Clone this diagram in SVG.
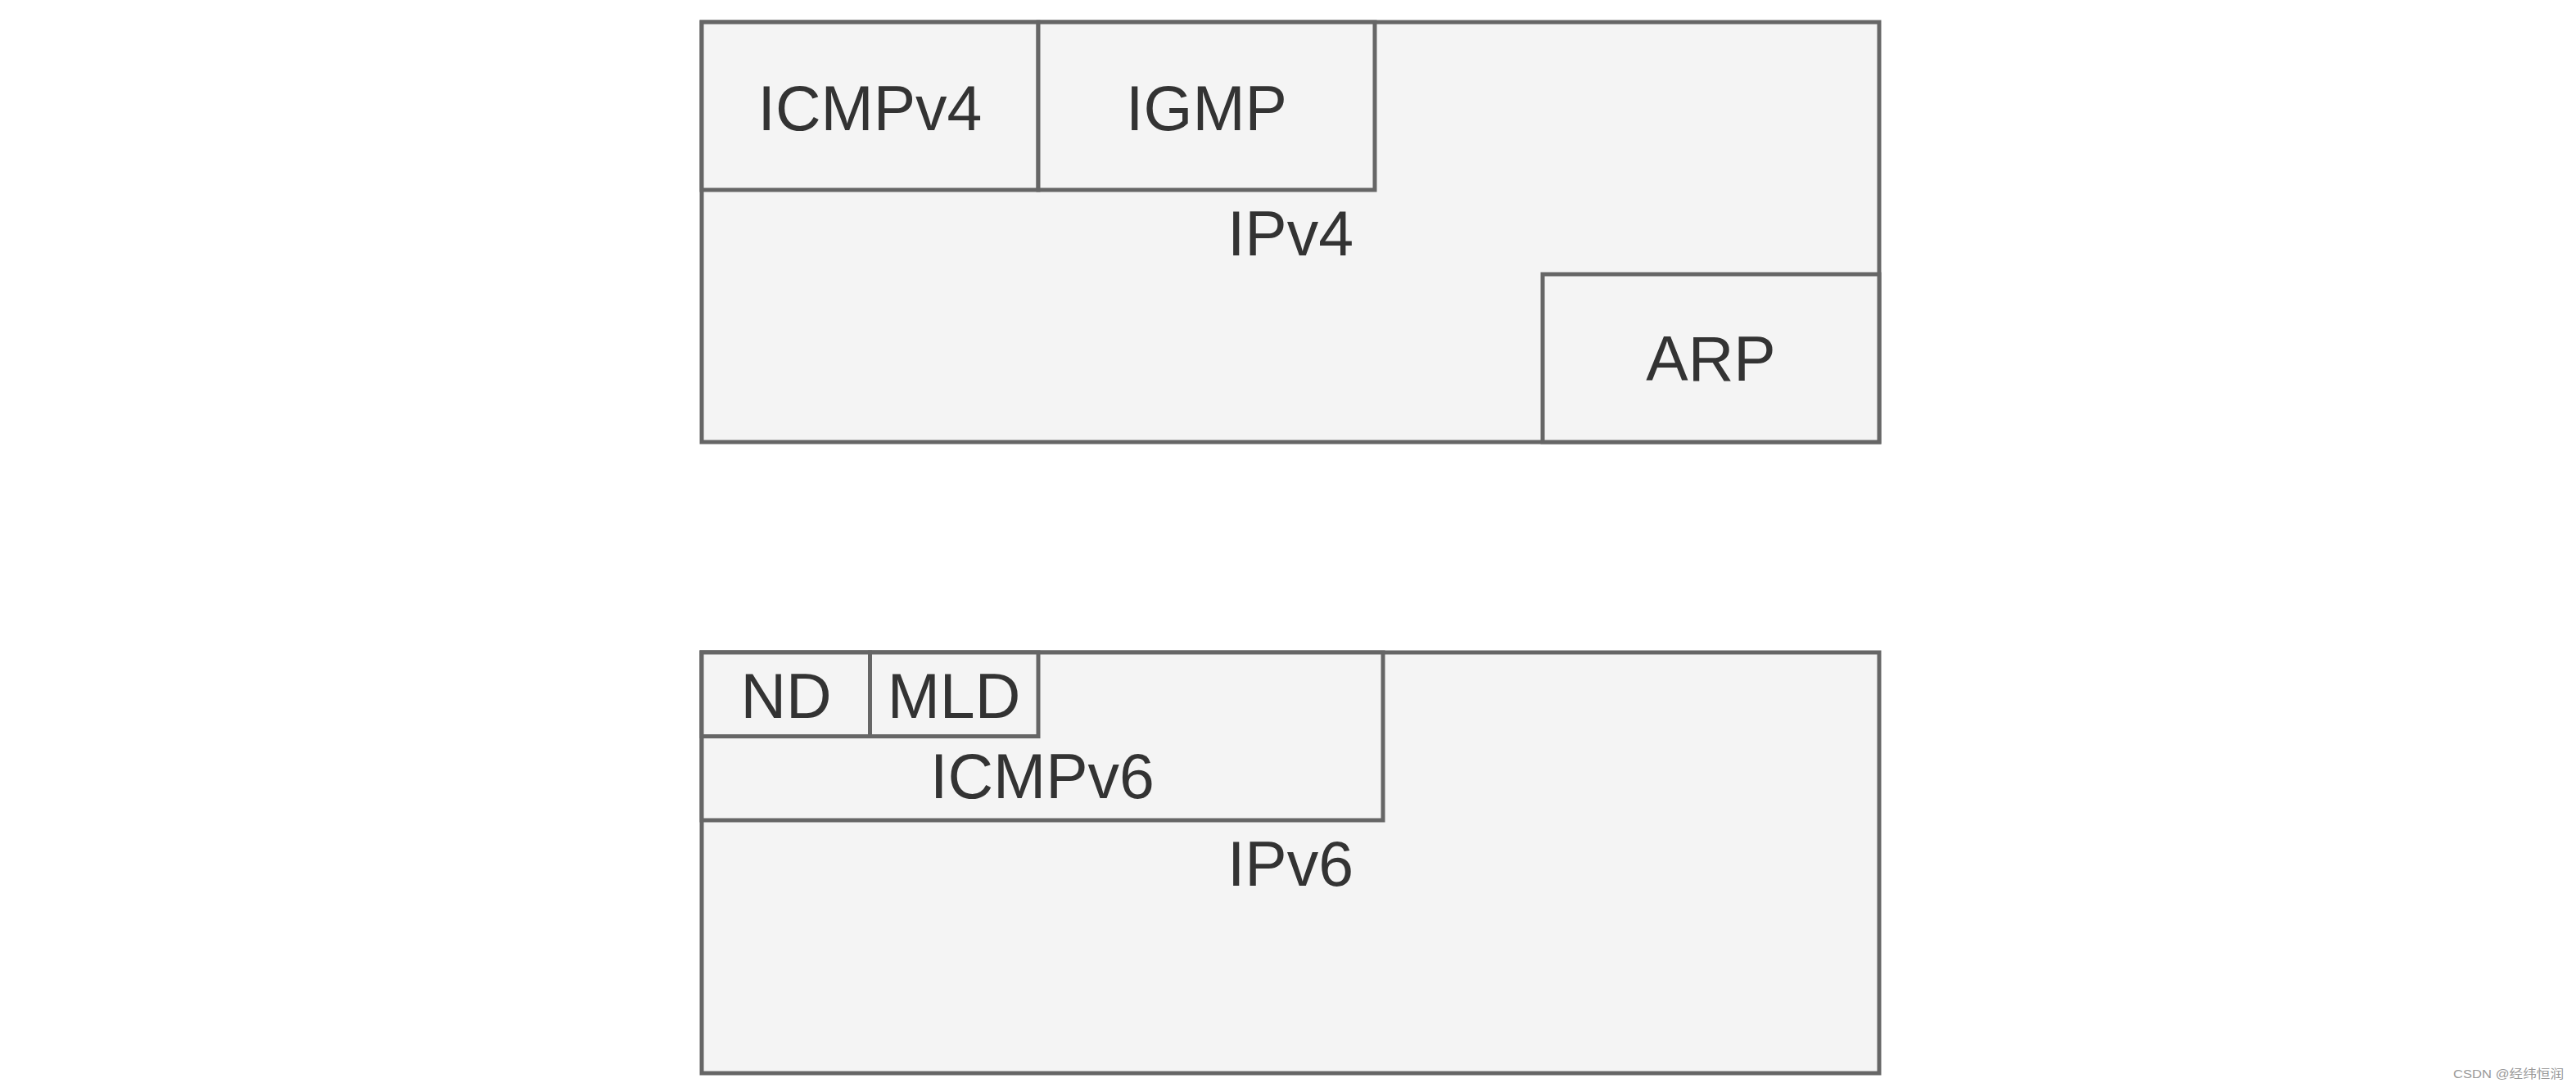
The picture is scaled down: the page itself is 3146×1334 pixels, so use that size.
<svg xmlns="http://www.w3.org/2000/svg" width="3146" height="1334" viewBox="0 0 3146 1334">
<style>
.box{fill:#f4f4f4;stroke:#666;stroke-width:5}
.lbl{font-family:"Liberation Sans",Arial,sans-serif;font-size:77px;fill:#333;text-anchor:middle}
.wm{font-family:"Liberation Sans","Noto Sans CJK SC",sans-serif;font-size:15px;fill:#999}
</style>
<rect width="3146" height="1334" fill="#fff"/>
<g id="ipv4"><rect class="box" x="857" y="27" width="1438" height="513"/><text class="lbl" x="1576" y="312">IPv4</text></g>
<g id="icmpv4"><rect class="box" x="857" y="27" width="411" height="205"/><text class="lbl" x="1062.5" y="159">ICMPv4</text></g>
<g id="igmp"><rect class="box" x="1268" y="27" width="411" height="205"/><text class="lbl" x="1473.5" y="159">IGMP</text></g>
<g id="arp"><rect class="box" x="1884" y="335" width="411" height="205"/><text class="lbl" x="2089.5" y="465">ARP</text></g>
<g id="ipv6"><rect class="box" x="857" y="797" width="1438" height="514"/><text class="lbl" x="1576" y="1082">IPv6</text></g>
<g id="icmpv6"><rect class="box" x="857" y="797" width="832" height="205"/><text class="lbl" x="1273" y="975">ICMPv6</text></g>
<g id="nd"><rect class="box" x="857" y="797" width="205.5" height="102.5"/><text class="lbl" x="960" y="877">ND</text></g>
<g id="mld"><rect class="box" x="1062.5" y="797" width="205.5" height="102.5"/><text class="lbl" x="1165" y="877">MLD</text></g>
<g id="connectors"></g>
<text class="wm" x="2996" y="1317" textLength="135" lengthAdjust="spacingAndGlyphs">CSDN @经纬恒润</text>
</svg>
